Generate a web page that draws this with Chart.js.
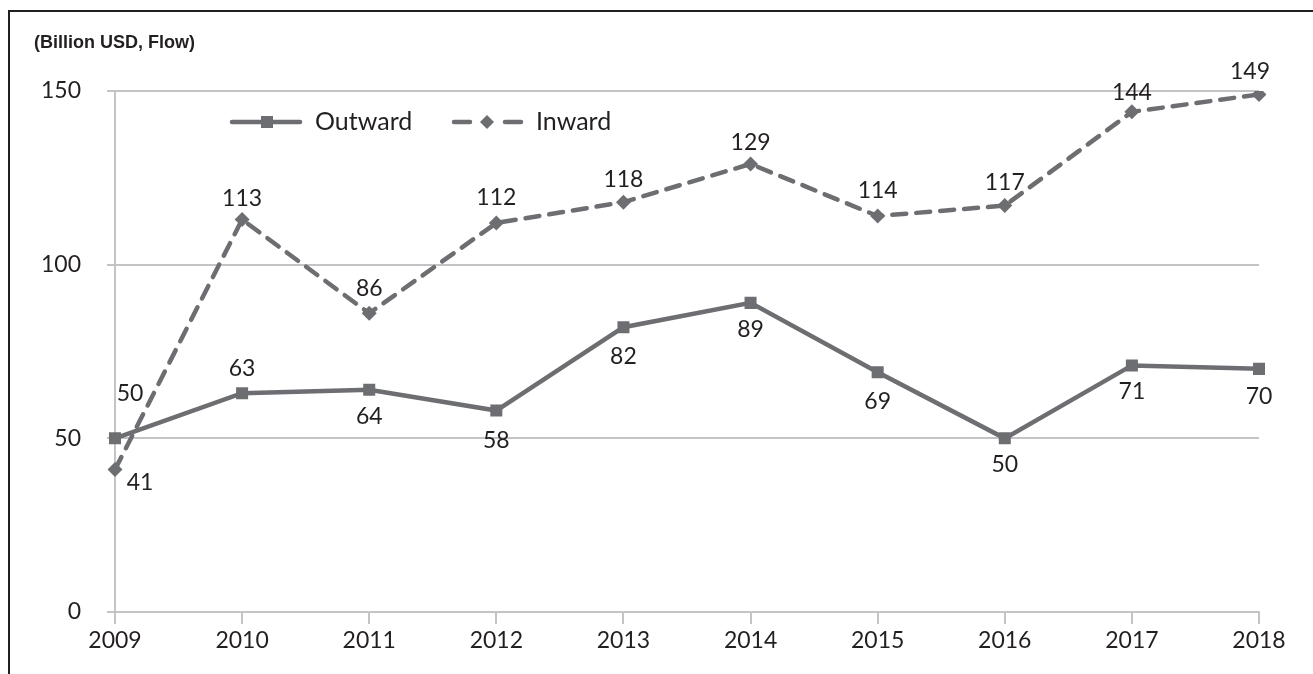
<!DOCTYPE html>
<html>
<head>
<meta charset="utf-8">
<script src="https://cdn.jsdelivr.net/npm/chart.js@4.4.0/dist/chart.umd.min.js"></script>
<style>
  html, body { margin: 0; padding: 0; background: #fff; }
  #wrap { position: relative; width: 1313px; height: 674px; }
</style>
</head>
<body>
<div id="wrap"><canvas id="fdiChart" width="1313" height="674"></canvas></div>
<script>
// chart data
var years = ['2009', '2010', '2011', '2012', '2013', '2014', '2015', '2016', '2017', '2018'];
var outwardValues = [50, 63, 64, 58, 82, 89, 69, 50, 71, 70];
var inwardValues = [41, 113, 86, 112, 118, 129, 114, 117, 144, 149];
var yTicks = [0, 50, 100, 150];
var unitLabel = '(Billion USD, Flow)';

// where each value label sits, relative to its point (px)
var outwardLabelDx = [15, 0, 0, 0, 0, 0, 0, 0, 0, 0];
var outwardLabelDy = [-45, -25, 27, 30, 29, 27, 29, 26, 26, 28];
var inwardLabelDx = [25, 0, 0, 0, 0, 0, 0, 0, 0, -9];
var inwardLabelDy = [13, -21, -25, -25, -23, -21, -25, -23, -19, -23];

var lineGray = '#6d6e71';
var gridGray = '#c4c4c7';
var textDark = '#231f20';
var numFont = 'Lato, "Open Sans", sans-serif';

document.addEventListener("DOMContentLoaded", function() {

var ctx = document.getElementById('fdiChart').getContext('2d');

// frame, unit label and legend
var framePlugin = {
    id: 'frame',
    beforeDraw: function(chart) {
        var c = chart.ctx;
        c.save();
        c.strokeStyle = textDark;
        c.lineWidth = 2;
        c.beginPath();
        c.moveTo(9, 674);
        c.lineTo(9, 11);
        c.lineTo(1313, 11);
        c.stroke();

        c.fillStyle = textDark;
        c.font = 'bold 18px "Liberation Sans", Arial, sans-serif';
        c.textAlign = 'left';
        c.textBaseline = 'middle';
        c.fillText(unitLabel, 34, 43);
        c.restore();
    },
    afterDraw: function(chart) {
        var c = chart.ctx;
        var y = 122;
        c.save();
        c.strokeStyle = lineGray;
        c.fillStyle = lineGray;
        c.lineWidth = 4.5;
        c.lineCap = 'round';

        // Outward: solid line + square
        c.beginPath();
        c.moveTo(232, y);
        c.lineTo(300, y);
        c.stroke();
        c.fillRect(267 - 6, y - 6, 12, 12);

        // Inward: dashes + diamond
        c.beginPath();
        c.moveTo(454, y);
        c.lineTo(470, y);
        c.moveTo(505, y);
        c.lineTo(521, y);
        c.stroke();
        c.beginPath();
        c.moveTo(487, y - 7);
        c.lineTo(494, y);
        c.lineTo(487, y + 7);
        c.lineTo(480, y);
        c.closePath();
        c.fill();

        c.fillStyle = textDark;
        c.font = '25px ' + numFont;
        c.textAlign = 'left';
        c.textBaseline = 'middle';
        c.fillText(chart.data.datasets[0].label, 315, y);
        c.fillText(chart.data.datasets[1].label, 536, y);
        c.restore();
    }
};

// value labels next to each point
var valueLabelPlugin = {
    id: 'valueLabels',
    afterDatasetsDraw: function(chart) {
        var c = chart.ctx;
        var offsets = [[outwardLabelDx, outwardLabelDy], [inwardLabelDx, inwardLabelDy]];
        c.save();
        c.fillStyle = textDark;
        c.font = '23px ' + numFont;
        c.textAlign = 'center';
        c.textBaseline = 'middle';
        chart.data.datasets.forEach(function(ds, d) {
            var meta = chart.getDatasetMeta(d);
            meta.data.forEach(function(pt, i) {
                c.fillText(String(ds.data[i]), pt.x + offsets[d][0][i], pt.y + offsets[d][1][i]);
            });
        });
        c.restore();
    }
};

var fdiChart = new Chart(ctx, {
    type: 'line',
    data: {
        labels: years,
        datasets: [{
            label: 'Outward',
            data: outwardValues,
            borderColor: lineGray,
            backgroundColor: lineGray,
            borderWidth: 4.5,
            fill: false,
            tension: 0,
            pointStyle: 'rect',
            pointRadius: 8.5,
            pointBorderWidth: 0,
            pointBackgroundColor: lineGray,
        }, {
            label: 'Inward',
            data: inwardValues,
            borderColor: lineGray,
            backgroundColor: lineGray,
            borderWidth: 4.5,
            borderDash: [14, 10],
            borderCapStyle: 'round',
            fill: false,
            tension: 0,
            pointStyle: 'rectRot',
            pointRadius: 7.5,
            pointBorderWidth: 0,
            pointBackgroundColor: lineGray,
        }]
    },
    options: {
        responsive: false,
        animation: false,
        devicePixelRatio: 1,
        layout: {
            padding: { top: 91, right: 54, left: 0, bottom: 0 }
        },
        plugins: {
            legend: { display: false },
            title: { display: false },
            tooltip: { enabled: false },
        },
        scales: {
            x: {
                type: 'category',
                offset: false,
                grid: {
                    drawOnChartArea: false,
                    drawTicks: true,
                    tickLength: 12,
                    color: gridGray,
                    lineWidth: 2,
                },
                border: { display: true, color: gridGray, width: 2 },
                ticks: {
                    color: textDark,
                    font: { family: numFont, size: 23 },
                    padding: 3,
                    maxRotation: 0,
                    autoSkip: false,
                },
                afterFit: function(scale) { scale.height = 62; },
            },
            y: {
                min: yTicks[0],
                max: yTicks[yTicks.length - 1],
                afterBuildTicks: function(scale) {
                    scale.ticks = yTicks.map(function(v) { return { value: v }; });
                },
                grid: {
                    color: gridGray,
                    lineWidth: 2,
                    tickLength: 8,
                },
                border: { display: true, color: gridGray, width: 2 },
                ticks: {
                    color: textDark,
                    font: { family: numFont, size: 23 },
                    padding: 26,
                },
                afterFit: function(scale) { scale.width = 115; },
            },
        },
    },
    plugins: [framePlugin, valueLabelPlugin],
});

});
</script>
</body>
</html>
